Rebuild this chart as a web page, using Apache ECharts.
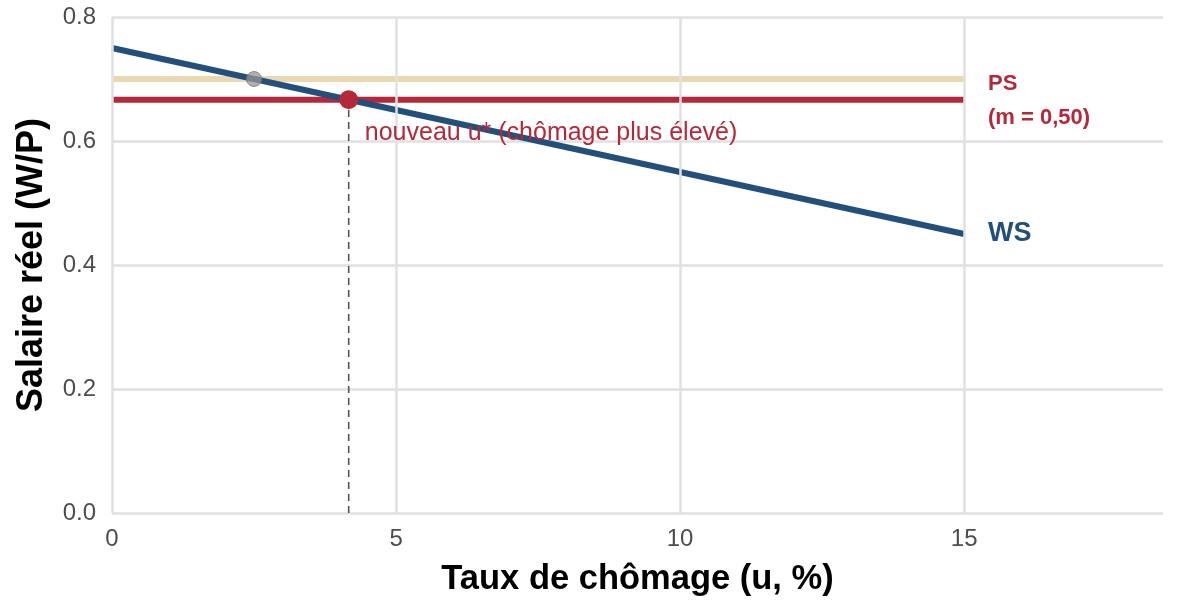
<!DOCTYPE html>
<html>
<head>
<meta charset="utf-8">
<script src="https://cdn.jsdelivr.net/npm/echarts@6/dist/echarts.min.js"></script>
<style>
  html, body { margin: 0; padding: 0; background: #fff; }
  #chart { width: 1190px; height: 614px; }
</style>
</head>
<body>
<div id="chart"></div>
<script>
// courbe WS : W/P = 0,75 - 0,02 u
var wsX = [0, 15];
var wsY = [0.75, 0.45];
// PS initial et nouveau (m = 0,50)
var psOldY = 0.70;
var psNewY = 0.6667;
var psX = [0, 15];
// équilibres
var eqOld = [2.5, 0.70];
var eqNew = [4.1667, 0.6667];
// graduations
var xTicks = [0, 5, 10, 15];
// étiquettes
var labelPS = ['PS', '(m = 0,50)'];
var labelWS = 'WS';
var labelU = 'nouveau u* (chômage plus élevé)';
var labelPos = { ps: [15.42, 0.692], ps2: [15.42, 0.637], ws: [15.42, 0.451], u: [4.45, 0.612] };

var font = '"Liberation Sans", Arial, sans-serif';
var gridColor = '#e0e0e0';

function pairs(xs, ys) {
	return xs.map(function(x, i) { return [x, ys[i]]; });
}

var chart = echarts.init(document.getElementById('chart'));

chart.setOption({
	animation : false,
	grid : { left : 112, right : 27, top : 17, bottom : 101 },
	xAxis : {
		type : 'value', min : 0, max : 18.5, interval : 5,
		name : 'Taux de chômage (u, %)', nameLocation : 'middle', nameGap : 49,
		nameTextStyle : { fontFamily : font, fontSize : 34.5, fontWeight : 'bold', color : '#000' },
		axisLine : { show : false }, axisTick : { show : false },
		axisLabel : { fontFamily : font, fontSize : 24, color : '#4d4d4d', margin : 14,
			formatter : function(v) { return xTicks.indexOf(v) >= 0 ? String(v) : ''; } },
		splitLine : { show : false }
	},
	yAxis : {
		type : 'value', min : 0, max : 0.8, interval : 0.2,
		name : 'Salaire réel (W/P)', nameLocation : 'middle', nameGap : 62,
		nameTextStyle : { fontFamily : font, fontSize : 36, fontWeight : 'bold', color : '#000' },
		axisLine : { show : false }, axisTick : { show : false },
		axisLabel : { fontFamily : font, fontSize : 24, color : '#4d4d4d', margin : 16,
			formatter : function(v) { return v.toFixed(1); } },
		splitLine : { show : true, lineStyle : { color : gridColor, width : 2.5 } }
	},
	series : [{
		// grille verticale aux graduations seulement
		type : 'line', symbol : 'none', silent : true, z : 1, data : [],
		markLine : {
			silent : true, symbol : 'none', label : { show : false },
			lineStyle : { color : gridColor, width : 2.5, type : 'solid' },
			data : xTicks.map(function(v) { return { xAxis : v }; })
		}
	}, {
		// PS initial (beige)
		type : 'line', symbol : 'none', silent : true, z : 2,
		data : pairs(psX, [psOldY, psOldY]),
		lineStyle : { color : '#ead9b0', width : 6 }
	}, {
		// nouveau PS
		type : 'line', symbol : 'none', silent : true, z : 2,
		data : pairs(psX, [psNewY, psNewY]),
		lineStyle : { color : '#b5283a', width : 6 }
	}, {
		// WS
		type : 'line', symbol : 'none', silent : true, z : 3,
		data : pairs(wsX, wsY),
		lineStyle : { color : '#23507a', width : 6 }
	}, {
		// pointillés vers l'axe
		type : 'line', symbol : 'none', silent : true, z : 2,
		data : [[eqNew[0], 0], [eqNew[0], eqNew[1]]],
		lineStyle : { color : '#555', width : 1.6, type : [7, 5] }
	}, {
		type : 'scatter', silent : true, symbolSize : 15, z : 4,
		itemStyle : { opacity : 1, color : 'rgba(150,150,150,0.75)', borderColor : 'rgba(120,120,120,0.8)', borderWidth : 1 },
		data : [eqOld]
	}, {
		type : 'scatter', silent : true, symbolSize : 19, z : 4,
		itemStyle : { opacity : 1, color : '#b5283a' },
		data : [eqNew]
	}, {
		// étiquettes
		type : 'scatter', silent : true, symbolSize : 0, z : 5,
		itemStyle : { opacity : 1 },
		label : { show : true, position : 'right', distance : 0, fontFamily : font, fontSize : 22,
			formatter : function(p) { return p.data.t; } },
		data : [
			{ value : labelPos.ps, t : labelPS[0], label : { color : '#b5283a', fontWeight : 'bold' } },
			{ value : labelPos.ps2, t : labelPS[1], label : { color : '#b5283a', fontWeight : 'bold' } },
			{ value : labelPos.ws, t : labelWS, label : { color : '#23507a', fontWeight : 'bold', fontSize : 27 } },
			{ value : labelPos.u, t : labelU, label : { color : '#b5283a', fontSize : 25 } }
		]
	}]
});
</script>
</body>
</html>
